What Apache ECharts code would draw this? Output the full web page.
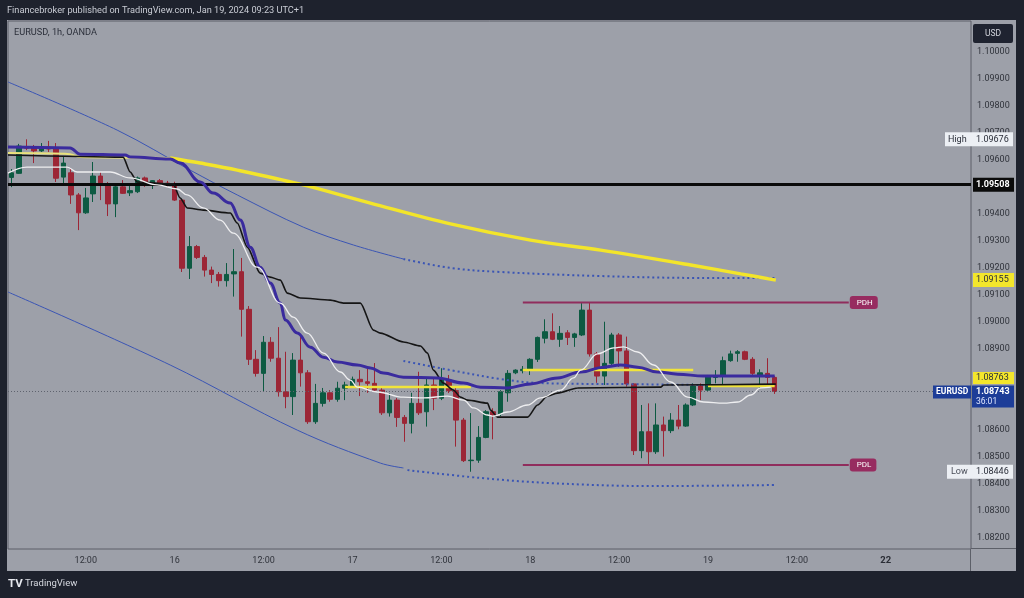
<!DOCTYPE html>
<html><head><meta charset="utf-8">
<script src="https://cdn.jsdelivr.net/npm/echarts@6/dist/echarts.min.js"></script>
<style>
html,body{margin:0;padding:0;background:#1e222d;overflow:hidden;}
#panel{position:absolute;left:7px;top:20px;width:1009px;height:551px;background:#9da0a9;}
#vline{position:absolute;left:970px;top:549px;width:1px;height:22px;background:#5c5f68;}
#hline{position:absolute;left:971px;top:548px;width:45px;height:1px;background:#5c5f68;}
#c{position:absolute;left:0;top:0;width:1024px;height:598px;}
</style>
</head><body>
<div id="panel"></div><div id="vline"></div><div id="hline"></div>
<div id="c"></div>
<script>
// ---------- DATA ----------
// hourly bars, EURUSD 1h, from Jan 15 02:00 (index 0) to Jan 19 09:00 (index 103)
// each candle: [open, close, low, high]
const candles = [
[1.09535,1.09552,1.09499,1.09566],[1.09550,1.09651,1.09548,1.09659],[1.09649,1.09643,1.09636,1.09676],
[1.09644,1.09633,1.09588,1.09655],[1.09633,1.09647,1.09629,1.09662],[1.09647,1.09640,1.09629,1.09670],
[1.09644,1.09532,1.09518,1.09662],[1.09536,1.09588,1.09514,1.09614],[1.09552,1.09470,1.09437,1.09570],
[1.09470,1.09404,1.09340,1.09477],[1.09404,1.09459,1.09400,1.09496],[1.09474,1.09540,1.09444,1.09592],
[1.09540,1.09507,1.09451,1.09555],[1.09507,1.09437,1.09392,1.09518],[1.09437,1.09500,1.09388,1.09514],
[1.09500,1.09476,1.09474,1.09525],[1.09478,1.09486,1.09466,1.09503],[1.09482,1.09533,1.09477,1.09538],
[1.09533,1.09507,1.09500,1.09538],[1.09511,1.09523,1.09492,1.09525],[1.09523,1.09507,1.09503,1.09529],
[1.09514,1.09507,1.09499,1.09522],[1.09507,1.09451,1.09448,1.09519],[1.09451,1.09199,1.09185,1.09455],
[1.09199,1.09279,1.09159,1.09318],[1.09279,1.09239,1.09233,1.09285],[1.09239,1.09192,1.09168,1.09248],
[1.09192,1.09176,1.09144,1.09205],[1.09176,1.09153,1.09131,1.09185],[1.09153,1.09176,1.09131,1.09218],
[1.09178,1.09186,1.09094,1.09270],[1.09186,1.09047,1.08946,1.09237],[1.09047,1.08862,1.08841,1.09059],
[1.08862,1.08810,1.08798,1.08896],[1.08810,1.08925,1.08742,1.08948],[1.08925,1.08866,1.08853,1.08944],
[1.08866,1.08742,1.08724,1.08981],[1.08742,1.08724,1.08681,1.08890],[1.08724,1.08859,1.08656,1.08885],
[1.08859,1.08812,1.08761,1.08948],[1.08812,1.08631,1.08623,1.08822],[1.08631,1.08699,1.08623,1.08771],
[1.08699,1.08738,1.08687,1.08756],[1.08738,1.08714,1.08705,1.08748],[1.08714,1.08755,1.08705,1.08779],
[1.08755,1.08767,1.08711,1.08779],[1.08764,1.08788,1.08761,1.08798],[1.08788,1.08779,1.08726,1.08822],
[1.08779,1.08773,1.08738,1.08830],[1.08773,1.08748,1.08742,1.08848],[1.08748,1.08664,1.08656,1.08756],
[1.08664,1.08711,1.08650,1.08737],[1.08711,1.08647,1.08612,1.08719],[1.08647,1.08625,1.08557,1.08656],
[1.08625,1.08699,1.08588,1.08738],[1.08699,1.08664,1.08656,1.08816],[1.08668,1.08767,1.08613,1.08793],
[1.08767,1.08718,1.08674,1.08795],[1.08718,1.08785,1.08711,1.08829],[1.08785,1.08746,1.08737,1.08804],
[1.08746,1.08637,1.08539,1.08756],[1.08637,1.08487,1.08482,1.08645],[1.08487,1.08489,1.08446,1.08663],
[1.08489,1.08573,1.08479,1.08615],[1.08573,1.08668,1.08570,1.08674],[1.08668,1.08656,1.08566,1.08681],
[1.08660,1.08742,1.08652,1.08748],[1.08738,1.08810,1.08705,1.08822],[1.08812,1.08822,1.08807,1.08825],
[1.08820,1.08825,1.08810,1.08837],[1.08822,1.08862,1.08804,1.08866],[1.08862,1.08943,1.08852,1.08946],
[1.08940,1.08964,1.08921,1.09010],[1.08964,1.08936,1.08933,1.09032],[1.08936,1.08958,1.08908,1.08985],
[1.08960,1.08943,1.08915,1.08970],[1.08943,1.08956,1.08908,1.08960],[1.08952,1.09044,1.08948,1.09070],
[1.09044,1.08882,1.08872,1.09072],[1.08882,1.08800,1.08775,1.08889],[1.08800,1.08847,1.08767,1.09001],
[1.08847,1.08952,1.08841,1.08960],[1.08952,1.08893,1.08834,1.08959],[1.08893,1.08771,1.08761,1.08946],
[1.08771,1.08524,1.08508,1.08774],[1.08524,1.08594,1.08496,1.08693],[1.08594,1.08520,1.08471,1.08699],
[1.08520,1.08619,1.08512,1.08699],[1.08619,1.08598,1.08502,1.08650],[1.08598,1.08637,1.08589,1.08663],
[1.08637,1.08615,1.08603,1.08693],[1.08615,1.08693,1.08612,1.08699],[1.08693,1.08763,1.08689,1.08773],
[1.08763,1.08748,1.08711,1.08773],[1.08748,1.08800,1.08745,1.08804],[1.08795,1.08800,1.08773,1.08822],
[1.08800,1.08857,1.08761,1.08872],[1.08857,1.08882,1.08853,1.08894],[1.08884,1.08890,1.08853,1.08896],
[1.08890,1.08862,1.08859,1.08894],[1.08862,1.08810,1.08804,1.08870],[1.08800,1.08812,1.08755,1.08825],
[1.08810,1.08795,1.08761,1.08866],[1.08795,1.08743,1.08734,1.08800]
];
const slotCount = 130; // hourly slots visible (incl. empty future space)

// indicator lines, sparse [barIndex, price] read points
const purpleMA = [[-0.5,1.09647],[7.88,1.09644],[9.23,1.09621],[15.31,1.09618],[15.99,1.09610],[21.39,1.09603],
[22.74,1.09588],[25.45,1.09518],[27.2,1.09477],[29.5,1.09440],[30.85,1.09377],[32.2,1.09277],[33.54,1.09203],
[34.89,1.09144],[36.26,1.09070],[36.93,1.09007],[38.55,1.08959],[40.31,1.08907],[42.07,1.08870],[43.96,1.08852],
[46.66,1.08841],[48.42,1.08830],[50.18,1.08811],[52.88,1.08796],[57.47,1.08793],[60.99,1.08774],[63.28,1.08759],
[66.93,1.08756],[70.04,1.08771],[73.69,1.08793],[76.8,1.08815],[79.9,1.08833],[82.2,1.08841],[84.5,1.08833],
[87.2,1.08815],[89.9,1.08807],[93.4,1.08800],[98.0,1.08800],[103,1.08800]];
const whiteMA = [[-0.5,1.09551],[2.07,1.09573],[7.47,1.09573],[8.82,1.09555],[13.28,1.09555],[15.99,1.09533],
[19.64,1.09507],[22.34,1.09492],[23.69,1.09470],[25.85,1.09422],[28.15,1.09377],[29.9,1.09329],[33.15,1.09203],
[36.26,1.09070],[38.01,1.09018],[39.9,1.08959],[42.07,1.08885],[44.36,1.08815],[45.72,1.08785],[46.66,1.08759],
[49.36,1.08741],[52.88,1.08722],[55.58,1.08719],[58.82,1.08726],[60.99,1.08711],[62.34,1.08682],[64.23,1.08656],
[65.04,1.08652],[66.93,1.08667],[69.64,1.08693],[71.39,1.08719],[74.09,1.08748],[75.85,1.08793],[76.8,1.08822],
[79.09,1.08882],[81.26,1.08904],[82.6,1.08908],[84.5,1.08889],[86.66,1.08841],[88.96,1.08778],[91.26,1.08722],
[93.42,1.08704],[96.12,1.08700],[98.01,1.08704],[99.77,1.08730],[101.12,1.08756],[102.47,1.08759]];
const blackBase = [[-0.5,1.09618],[15.04,1.09610],[15.99,1.09555],[16.93,1.09518],[21.8,1.09511],[22.74,1.09459],
[23.69,1.09422],[25.85,1.09414],[29.5,1.09403],[30.45,1.09366],[31.8,1.09277],[33.54,1.09181],[34.89,1.09166],
[36.26,1.09155],[37.2,1.09107],[38.96,1.09089],[43.01,1.09081],[44.77,1.09070],[47.07,1.09070],[48.82,1.08970],
[49.77,1.08959],[52.88,1.08926],[55.18,1.08911],[56.12,1.08885],[56.93,1.08822],[58.28,1.08774],[59.64,1.08748],
[60.58,1.08722],[61.53,1.08711],[64.23,1.08700],[64.64,1.08674],[65.58,1.08648],[69.64,1.08648],[70.99,1.08693],
[72.34,1.08726],[73.69,1.08737],[76.39,1.08756],[87.6,1.08759],[88.0,1.08767],[103.15,1.08770]];
const yellowEMAthin = [[-0.5,1.09625],[7.88,1.09621],[9.23,1.09610],[21.39,1.09607]];
const yellowEMA = [[21.39,1.09607],[25.45,1.09588],[30.45,1.09562],[38.96,1.09510],[48.42,1.09440],[59.23,1.09363],
[70.04,1.09303],[79.5,1.09266],[91.66,1.09211],[98.42,1.09178],[103.15,1.09155]];
const bandUpper = [[-0.5,1.09888],[14.23,1.09710],[24.09,1.09562],[30.45,1.09470],[39.36,1.09351],[46.12,1.09285],[52.88,1.09233]];
const bandUpperProj = [[52.88,1.09233],[59.23,1.09200],[65.99,1.09185],[79.5,1.09170],[93.01,1.09163],[103.15,1.09163]];
const bandMidProj = [[52.88,1.08856],[59.23,1.08822],[65.99,1.08789],[71.39,1.08774],[83.55,1.08770],[93.01,1.08767],[103.15,1.08763]];
const bandLower = [[-0.5,1.09111],[21.39,1.08841],[38.55,1.08600],[49.77,1.08478],[52.88,1.08460]];
const bandLowerProj = [[53.42,1.08452],[63.28,1.08423],[72.74,1.08404],[86.26,1.08393],[103.15,1.08397]];
const yellowLevels = [[45,62,1.08760],[69,92,1.08822],[94,103,1.08763]]; // [fromIndex, toIndex, price]
const pdh = 1.09072, pdl = 1.08471, pdFrom = 69, pdTo = 113;
const levelLine = 1.09508;
const lastPrice = 1.08743, countdown = '36:01';
const highValue = 1.09676, lowValue = 1.08446, emaLast = 1.09155, yellowLast = 1.08763;
const priceTicks = [1.082,1.083,1.084,1.085,1.086,1.089,1.090,1.091,1.092,1.093,1.094,1.096,1.097,1.098,1.099,1.100];
const tickPositions = [10,22,34,46,58,70,82,94,106,118];
const tickLabels = ['12:00','16','12:00','17','12:00','18','12:00','19','12:00','22'];
const yMin = 1.081602, yMax = 1.101136;

// ---------- CHART ----------
const categories = [];
for (let i = 0; i < slotCount; i++) categories.push(String(i));
const UP = '#0d5a42', DOWN = '#9c2636';
const FONT = 'Roboto';

const chart = echarts.init(document.getElementById('c'), null, {renderer: 'canvas'});
function lineS(data, color, width, type, smooth, z, mono) {
  const s = {type: 'line', xAxisIndex: 1, yAxisIndex: 0, data: data, symbol: 'none', silent: true,
    smooth: smooth, z: z || 3,
    lineStyle: {color: color, width: width, type: type || 'solid', cap: 'butt'}};
  if (mono) s.smoothMonotone = 'x';
  return s;
}
const series = [
  {type: 'candlestick', xAxisIndex: 0, yAxisIndex: 0, data: candles, barWidth: 5, z: 2, silent: true,
   itemStyle: {color: UP, color0: DOWN, borderColor: UP, borderColor0: DOWN, borderWidth: 1},
   markLine: {symbol: 'none', silent: true, precision: 5, label: {show: false}, animation: false,
     data: [
       {yAxis: lastPrice, lineStyle: {color: '#5f636e', width: 1, type: [1, 2]}},
       {yAxis: levelLine, lineStyle: {color: '#0a0a0a', width: 3, type: 'solid'}}
     ]}},
  lineS(bandUpper, '#3b55b4', 1, 'solid', 0.35),
  lineS(bandLower, '#3b55b4', 1, 'solid', 0.35),
  lineS(bandUpperProj, '#3b55b4', 2, [2, 3], 0.35),
  lineS(bandMidProj, '#3b55b4', 2, [2, 3], 0.35),
  lineS(bandLowerProj, '#3b55b4', 2, [2, 3], 0.35),
  lineS(yellowEMAthin, '#e9e27c', 2, 'solid', 0.3, 4),
  lineS(yellowEMA, '#f3e52a', 3.5, 'solid', 0.35, 4)
];
yellowLevels.forEach(s => series.push(lineS([[s[0], s[2]], [s[1], s[2]]], '#f1e43a', 2.5, 'solid', false, 4)));
series.push(lineS(blackBase, '#151515', 1.6, 'solid', 0.25, 5, true));
series.push(lineS(purpleMA, '#3a2b9e', 3, 'solid', 0.4, 6, true));
series.push(lineS(whiteMA, '#eeeef0', 1.3, 'solid', 0.4, 7, true));
[[pdh, 'PDH'], [pdl, 'PDL']].forEach(p => {
  const s = lineS([[pdFrom, p[0]], [pdTo, p[0]]], '#902d5d', 2, 'solid', false, 4);
  s.endLabel = {show: true, formatter: p[1], distance: 1, color: '#ffffff', fontSize: 8, fontFamily: FONT,
    backgroundColor: '#972c60', padding: [3, 5, 2, 7], borderRadius: 3};
  series.push(s);
});

const option = {
  backgroundColor: 'transparent',
  animation: false,
  grid: {left: 8, right: 53, top: 21, bottom: 49, show: true, borderColor: '#5c5f68', borderWidth: 1, backgroundColor: 'transparent'},
  xAxis: [
    {type: 'category', data: categories, boundaryGap: true, show: false},
    {type: 'value', min: -0.5, max: slotCount - 0.5, position: 'bottom',
     axisLine: {show: false}, axisTick: {show: false}, splitLine: {show: false},
     axisLabel: {customValues: tickPositions, margin: 7, color: '#30333b', fontSize: 9, fontFamily: FONT,
       formatter: v => { const t = tickLabels[tickPositions.indexOf(v)]; return t === '22' ? '{b|22}' : t; },
       rich: {b: {fontWeight: 'bold', color: '#2a2d35', fontSize: 9.5, fontFamily: FONT}}}}
  ],
  yAxis: {type: 'value', position: 'right', min: yMin, max: yMax,
    axisLine: {show: false}, axisTick: {show: false}, splitLine: {show: false},
    axisLabel: {customValues: priceTicks, margin: 6, color: '#30333b', fontSize: 9, fontFamily: FONT,
      formatter: v => v.toFixed(5)}},
  series: series
};
chart.setOption(option);

// ---------- price tags & texts (positions from the axes) ----------
const AX = chart.convertToPixel({xAxisIndex: 1}, slotCount - 0.5);
const py = v => chart.convertToPixel({yAxisIndex: 0}, v);
const g = [];
function box(x, y, w, h, fill, r) { g.push({type: 'rect', z: 100, shape: {x: x, y: y, width: w, height: h, r: r || 0}, style: {fill: fill}}); }
function txt(x, y, text, color, size, weight, align) {
  g.push({type: 'text', z: 101, x: x, y: y, style: {text: text, fill: color,
    font: (weight || 'normal') + ' ' + (size || 9) + 'px ' + FONT, align: align || 'left', verticalAlign: 'middle'}});
}
// USD
box(AX + 2, 24, 40, 19, '#1f2330', 2); txt(AX + 22, 33.5, 'USD', '#d1d4dc', 8.5, 'normal', 'center');
// High
let y = py(highValue);
box(AX - 26, y - 7, 68, 14, '#eceff4'); txt(AX - 23, y, 'High', '#2a2e39', 9); txt(AX + 5, y, highValue.toFixed(5), '#2a2e39', 9);
// black level
y = py(levelLine);
box(AX + 2, y - 7, 41, 14, '#0b0b0b'); txt(AX + 5, y, levelLine.toFixed(5), '#ffffff', 9, 'bold');
// yellow EMA last
y = py(emaLast);
box(AX + 2, y - 7, 41, 14, '#f3e62c'); txt(AX + 5, y, emaLast.toFixed(5), '#2a2e39', 9);
// yellow level (pushed up to clear the last price tag)
y = py(yellowLast) - 8;
box(AX + 2, y - 6, 41, 12, '#f3e62c'); txt(AX + 5, y, yellowLast.toFixed(5), '#2a2e39', 9);
// last price
y = py(lastPrice);
box(AX - 38, y - 6, 38, 13, '#1d3d98'); txt(AX - 35, y + 0.5, 'EURUSD', '#ffffff', 8.5, 'bold');
box(AX + 1, y - 6, 42, 22, '#1d3d98');
txt(AX + 5, y + 0.5, lastPrice.toFixed(5), '#ffffff', 9, 'bold'); txt(AX + 5, y + 10.5, countdown, '#dfe6ff', 8.5);
// Low
y = py(lowValue);
box(AX - 24, y - 7, 66, 14, '#eceff4'); txt(AX - 20, y, 'Low', '#4a4e59', 9); txt(AX + 5, y, lowValue.toFixed(5), '#2a2e39', 9);
// header / title / logo
txt(7, 11, 'Financebroker published on TradingView.com, Jan 19, 2024 09:23 UTC+1', '#c9ccd4', 9.2);
txt(14, 33, 'EURUSD, 1h, OANDA', '#2b2f3a', 9.2);
txt(8, 584, 'TV', '#e6e8ee', 11.5, 'bold');
txt(25, 584, 'TradingView', '#d6d9e0', 9.5);
chart.setOption({graphic: {elements: g}});
</script>
</body></html>
